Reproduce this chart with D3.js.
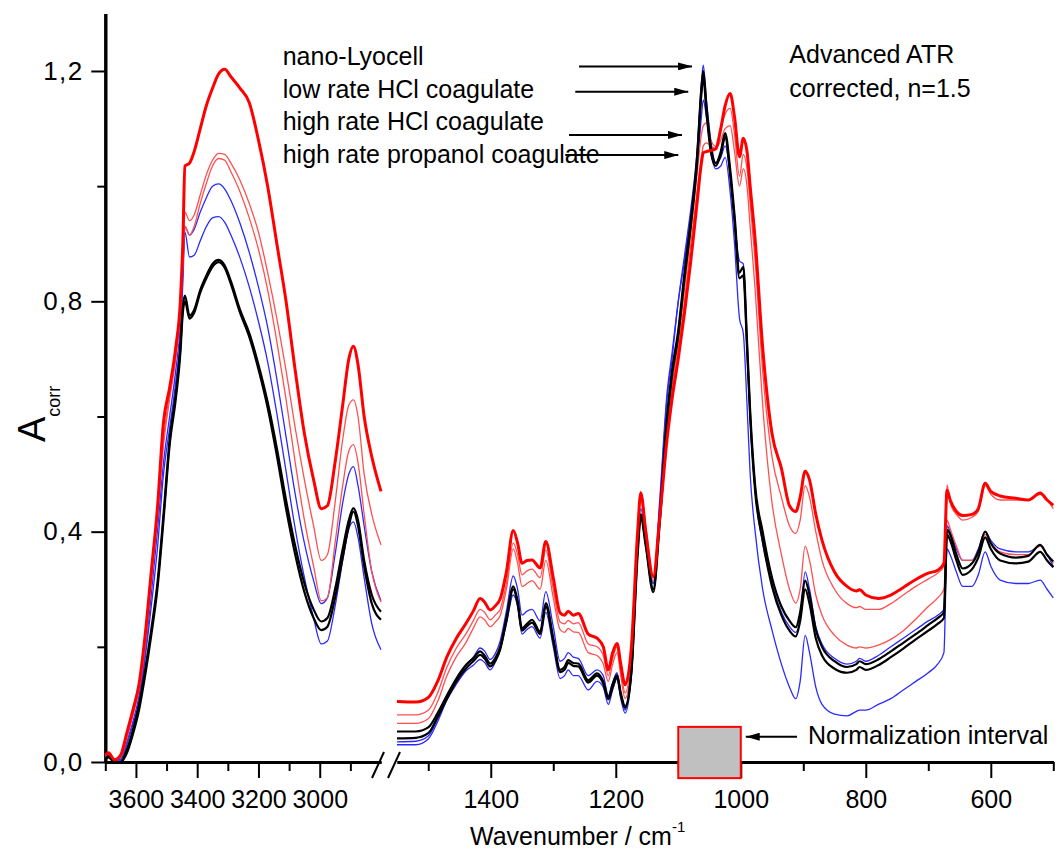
<!DOCTYPE html>
<html>
<head>
<meta charset="utf-8">
<script src="https://cdn.jsdelivr.net/npm/d3@7"></script>
<style>
  body { margin: 0; background: #ffffff; }
  svg { display: block; font-family: "Liberation Sans", Arial, Helvetica, sans-serif; }
</style>
</head>
<body>
<svg></svg>
<script>
const WIDTH = 1057;
const HEIGHT = 855;

// wavenumbers (cm-1) sampled in the two panels of the broken axis
const leftWavenumbers = [3700, 3690, 3670, 3650, 3630, 3610, 3590, 3570, 3550, 3530,
    3510, 3490, 3470, 3455, 3447, 3440, 3425, 3410, 3390, 3370,
    3350, 3330, 3310, 3290, 3260, 3230, 3200, 3170, 3140, 3110,
    3080, 3050, 3020, 2995, 2975, 2950, 2925, 2905, 2890, 2875,
    2855, 2830, 2800];

const rightWavenumbers = [1550, 1520, 1500, 1485, 1470, 1455, 1440, 1428, 1417, 1410,
    1401, 1392, 1385, 1375, 1364, 1357, 1350, 1342, 1334, 1321,
    1312, 1300, 1289, 1282, 1276, 1268, 1260, 1244, 1230, 1220,
    1212, 1205, 1198, 1192, 1185, 1175, 1165, 1160, 1152, 1140,
    1130, 1118, 1110, 1100, 1090, 1080, 1070, 1063, 1060, 1055,
    1048, 1040, 1032, 1025, 1017, 1010, 1002, 996, 990, 985,
    977, 965, 950, 935, 922, 912, 905, 897, 890, 880,
    870, 850, 830, 815, 810, 800, 780, 760, 740, 720,
    700, 685, 675, 670, 665, 655, 645, 630, 620, 609,
    600, 585, 560, 540, 521, 510, 500];

// high rate propanol coagulate
const propanolLeft = [.012, .016, .004, .012, .05, .09, .135, .22, .33, .44,
    .59, .65, .72, .8, .9, 1.035, 1.04, 1.06, 1.1, 1.14,
    1.17, 1.195, 1.203, 1.19, 1.17, 1.145, 1.08, 1.0, .9, .8,
    .68, .57, .49, .44, .445, .52, .62, .7, .722, .69,
    .6, .53, .47];
const propanolRight = [.105, .104, .112, .14, .183, .215, .24, .262, .284, .278,
    .264, .272, .283, .33, .402, .38, .345, .35, .351, .337,
    .383, .32, .259, .255, .262, .255, .258, .222, .215, .2,
    .16, .19, .206, .17, .134, .2, .4, .467, .4, .322,
    .42, .56, .63, .7, .78, .87, .97, 1.04, 1.058, 1.06,
    1.062, 1.065, 1.1, 1.14, 1.161, 1.12, 1.051, 1.083, 1.06, 1.0,
    .907, .72, .57, .51, .445, .435, .46, .505, .49, .43,
    .385, .33, .305, .297, .299, .29, .284, .29, .303, .317,
    .328, .333, .345, .472, .455, .435, .428, .43, .44, .484,
    .47, .462, .458, .455, .467, .455, .446];

// high rate HCl coagulate, two spectra
const hclHighALeft = [.012, .015, .005, .01, .045, .085, .13, .21, .32, .43,
    .56, .64, .71, .79, .88, .955, .94, .95, .985, 1.02,
    1.045, 1.057, 1.055, 1.04, 1.01, .97, .92, .85, .77, .68,
    .58, .49, .41, .35, .36, .45, .56, .62, .629, .6,
    .5, .43, .377];
const hclHighARight = [.082, .082, .09, .12, .165, .198, .222, .245, .265, .26,
    .247, .256, .265, .31, .38, .36, .325, .332, .335, .32,
    .368, .3, .243, .24, .246, .24, .242, .205, .2, .185,
    .15, .18, .2, .16, .12, .19, .4, .47, .41, .32,
    .42, .57, .65, .73, .82, .92, 1.02, 1.09, 1.105, 1.11,
    1.08, 1.069, 1.1, 1.125, 1.135, 1.09, 1.017, 1.055, 1.03, .97,
    .87, .68, .53, .46, .41, .397, .42, .48, .46, .4,
    .35, .3, .275, .268, .27, .265, .265, .275, .29, .305,
    .318, .328, .34, .481, .45, .43, .42, .425, .435, .48,
    .465, .455, .455, .455, .465, .455, .44];
const hclHighBLeft = [.01, .014, .004, .008, .04, .08, .125, .2, .31, .42,
    .55, .63, .7, .78, .86, .93, .915, .93, .97, 1.005,
    1.035, 1.048, 1.045, 1.025, .99, .945, .89, .82, .73, .63,
    .52, .42, .34, .28, .285, .38, .48, .54, .551, .52,
    .43, .33, .278];
const hclHighBRight = [.067, .067, .075, .105, .15, .183, .207, .232, .252, .247,
    .235, .244, .254, .3, .37, .345, .305, .31, .315, .3,
    .35, .285, .23, .225, .232, .226, .225, .19, .185, .17,
    .14, .17, .19, .15, .11, .18, .39, .46, .4, .315,
    .41, .56, .64, .72, .8, .9, .99, 1.05, 1.07, 1.075,
    1.07, 1.065, 1.08, 1.1, 1.105, 1.06, 1.0, 1.03, 1.0, .93,
    .82, .62, .45, .36, .3, .276, .3, .375, .35, .29,
    .255, .22, .203, .198, .2, .198, .203, .213, .228, .248,
    .27, .285, .3, .42, .405, .375, .35, .35, .365, .395,
    .38, .365, .36, .36, .375, .36, .345];

// low rate HCl coagulate, two spectra
const hclLowALeft = [.008, .012, .002, .005, .035, .07, .115, .19, .29, .4,
    .52, .6, .68, .76, .85, .93, .915, .925, .955, .98,
    1.0, 1.004, .995, .975, .935, .885, .825, .755, .665, .565,
    .465, .38, .315, .275, .285, .36, .45, .5, .513, .48,
    .41, .33, .28];
const hclLowARight = [.035, .036, .045, .075, .112, .142, .168, .182, .198, .193,
    .178, .19, .21, .262, .323, .3, .255, .262, .265, .245,
    .296, .235, .175, .18, .19, .182, .18, .15, .16, .15,
    .115, .138, .155, .12, .09, .16, .38, .44, .39, .31,
    .44, .63, .7, .8, .88, .96, 1.06, 1.18, 1.21, 1.15,
    1.08, 1.04, 1.05, 1.07, 1.02, .94, .87, .865, .72, .6,
    .47, .38, .31, .26, .235, .225, .25, .33, .3, .235,
    .205, .18, .17, .175, .18, .175, .185, .2, .215, .23,
    .245, .255, .265, .41, .4, .37, .35, .35, .37, .4,
    .385, .37, .365, .365, .375, .36, .34];
const hclLowBLeft = [.006, .01, 0, .003, .03, .065, .105, .18, .27, .37,
    .5, .58, .66, .74, .83, .92, .877, .88, .905, .93,
    .945, .947, .937, .915, .875, .825, .765, .695, .605, .505,
    .405, .32, .25, .205, .21, .27, .35, .405, .417, .39,
    .32, .24, .195];
const hclLowBRight = [.03, .03, .04, .07, .108, .135, .158, .168, .178, .173,
    .16, .175, .195, .24, .29, .27, .222, .23, .235, .215,
    .26, .2, .145, .15, .16, .15, .15, .125, .14, .13,
    .1, .125, .145, .11, .085, .15, .37, .43, .38, .31,
    .45, .64, .71, .8, .87, .95, 1.03, 1.12, 1.15, 1.12,
    1.06, 1.03, 1.035, 1.05, .99, .9, .77, .745, .62, .5,
    .4, .3, .229, .17, .13, .11, .14, .22, .19, .13,
    .1, .083, .08, .088, .09, .09, .1, .11, .125, .14,
    .155, .17, .19, .37, .36, .33, .305, .305, .325, .365,
    .34, .316, .31, .31, .316, .3, .285];

// nano-Lyocell, two spectra
const lyocellALeft = [.005, .01, 0, 0, .021, .055, .1, .16, .23, .31,
    .43, .56, .64, .72, .79, .81, .775, .785, .82, .845,
    .865, .872, .862, .835, .785, .745, .69, .625, .545, .455,
    .375, .31, .265, .244, .25, .3, .37, .42, .441, .42,
    .35, .29, .261];
const lyocellARight = [.053, .053, .06, .085, .116, .145, .168, .18, .192, .185,
    .171, .182, .2, .25, .305, .28, .232, .24, .247, .226,
    .276, .215, .16, .165, .177, .172, .171, .142, .154, .14,
    .113, .135, .151, .12, .097, .16, .37, .43, .38, .3,
    .42, .6, .68, .75, .85, .94, 1.05, 1.17, 1.2, 1.14,
    1.07, 1.04, 1.06, 1.092, 1.03, .95, .85, .86, .73, .61,
    .48, .4, .32, .27, .245, .234, .26, .315, .29, .23,
    .2, .175, .165, .17, .175, .17, .178, .192, .207, .222,
    .238, .25, .26, .403, .395, .36, .336, .345, .365, .4,
    .38, .362, .355, .358, .377, .36, .348];
const lyocellBLeft = [.004, .008, 0, 0, .015, .048, .09, .15, .22, .3,
    .42, .55, .63, .71, .78, .8, .77, .78, .815, .84,
    .86, .868, .858, .83, .78, .738, .682, .615, .532, .44,
    .36, .295, .25, .229, .235, .285, .355, .41, .435, .41,
    .34, .275, .247];
const lyocellBRight = [.041, .042, .05, .078, .11, .14, .162, .175, .186, .18,
    .166, .177, .195, .245, .3, .275, .228, .236, .242, .222,
    .27, .21, .156, .16, .172, .167, .166, .138, .15, .136,
    .109, .13, .147, .116, .094, .155, .36, .425, .375, .295,
    .41, .59, .67, .74, .84, .93, 1.04, 1.16, 1.19, 1.13,
    1.06, 1.035, 1.055, 1.085, 1.02, .94, .84, .845, .72, .6,
    .47, .385, .305, .255, .228, .218, .245, .3, .275, .215,
    .185, .162, .155, .16, .165, .16, .168, .182, .197, .213,
    .228, .24, .25, .395, .385, .35, .325, .335, .355, .39,
    .37, .35, .345, .348, .365, .35, .338];

// ticks
const yMajorTicks = [0, 0.4, 0.8, 1.2];
const yMinorTicks = [0.2, 0.6, 1.0];
const leftMajorTicks = [3600, 3400, 3200, 3000];
const leftMinorTicks = [3700, 3500, 3300, 3100, 2900];
const rightMajorTicks = [1400, 1200, 1000, 800, 600];
const rightMinorTicks = [1500, 1300, 1100, 900, 700, 500];

// annotations
const legendLabels = ["nano-Lyocell", "low rate HCl coagulate", "high rate HCl coagulate", "high rate propanol coagulate"];
const legendArrowTips = [[1078, 1.208], [1084, 1.164], [1094, 1.089], [1100, 1.054]];
const noteLines = ["Advanced ATR", "corrected, n=1.5"];
const normInterval = [1100, 1000];
const normBoxLimits = [0.061, -0.028];

const lineStyles = {
    propanol: { stroke: "#ff0000", width: 3 },
    hclHigh: { stroke: "#ff5050", width: 1.3 },
    hclLow: { stroke: "#2a2aff", width: 1.3 },
    lyocell: { stroke: "#000000", width: 2.2 }
};

// drawing order: the last one ends up on top
const spectra = [
    { kind: "hclLow", left: hclLowBLeft, right: hclLowBRight },
    { kind: "hclLow", left: hclLowALeft, right: hclLowARight },
    { kind: "hclHigh", left: hclHighBLeft, right: hclHighBRight },
    { kind: "hclHigh", left: hclHighALeft, right: hclHighARight },
    { kind: "lyocell", left: lyocellBLeft, right: lyocellBRight },
    { kind: "lyocell", left: lyocellALeft, right: lyocellARight },
    { kind: "propanol", left: propanolLeft, right: propanolRight }
];

function styleAxis(g, fontSize) {
    g.select(".domain").attr("stroke-width", 3);
    g.selectAll(".tick line").attr("stroke-width", 2);
    g.selectAll("text")
        .attr("font-family", "Liberation Sans, Arial, sans-serif")
        .style("font-size", fontSize + "px")
        .attr("fill", "#000");
}

function drawChart(svg) {
    svg.attr("width", WIDTH).attr("height", HEIGHT);

    const y = d3.scaleLinear().domain([0, 1.3]).range([762, 13.4]);
    const xLeft = d3.scaleLinear().domain([3700, 2800]).range([105.3, 381]);
    const xRight = d3.scaleLinear().domain([1550, 500]).range([397, 1053.3]);

    // y axis
    svg.append("g")
        .attr("transform", "translate(105.3,0)")
        .call(d3.axisLeft(y).tickValues(yMinorTicks).tickSize(8).tickSizeOuter(0).tickFormat(""))
        .call(g => styleAxis(g, 25));
    svg.append("g")
        .attr("transform", "translate(105.3,0)")
        .call(d3.axisLeft(y).tickValues(yMajorTicks).tickSize(14).tickSizeOuter(0).tickPadding(7.5)
            .tickFormat(d => d.toFixed(1).replace(".", ",")))
        .call(g => styleAxis(g, 26))
        .call(g => g.selectAll("text").style("letter-spacing", "1.5px"));

    // x axes, one per panel
    [[xLeft, leftMajorTicks, leftMinorTicks], [xRight, rightMajorTicks, rightMinorTicks]].forEach(([x, major, minor]) => {
        svg.append("g")
            .attr("transform", "translate(0,762)")
            .call(d3.axisBottom(x).tickValues(minor).tickSize(9).tickSizeOuter(0).tickFormat(""))
            .call(g => styleAxis(g, 25));
        svg.append("g")
            .attr("transform", "translate(0,762)")
            .call(d3.axisBottom(x).tickValues(major).tickSize(16).tickSizeOuter(0).tickFormat(d => d))
            .call(g => styleAxis(g, 25))
            .call(g => g.selectAll("text").attr("y", 28).attr("dy", "0.71em"));
    });

    // break marks
    svg.append("g")
        .selectAll("line")
        .data([372, 388])
        .enter().append("line")
        .attr("x1", d => d).attr("y1", 778)
        .attr("x2", d => d + 12).attr("y2", 752)
        .attr("stroke", "#000")
        .attr("stroke-width", 2);

    // spectra
    const lineFor = (x, wn) => d3.line()
        .x((d, i) => x(wn[i]))
        .y(d => y(d))
        .curve(d3.curveMonotoneX);

    const lineLeft = lineFor(xLeft, leftWavenumbers);
    const lineRight = lineFor(xRight, rightWavenumbers);

    const lines = svg.append("g").attr("fill", "none").attr("stroke-linejoin", "round");
    spectra.forEach(s => {
        const st = lineStyles[s.kind];
        lines.append("path")
            .attr("d", lineLeft(s.left))
            .attr("stroke", st.stroke)
            .attr("stroke-width", st.width);
        lines.append("path")
            .attr("d", lineRight(s.right))
            .attr("stroke", st.stroke)
            .attr("stroke-width", st.width);
    });

    // normalization interval box
    svg.append("rect")
        .attr("x", xRight(normInterval[0]))
        .attr("y", y(normBoxLimits[0]))
        .attr("width", xRight(normInterval[1]) - xRight(normInterval[0]))
        .attr("height", y(normBoxLimits[1]) - y(normBoxLimits[0]))
        .attr("fill", "#c0c0c0")
        .attr("stroke", "#ff0000")
        .attr("stroke-width", 2);

    // arrow head
    svg.append("defs").append("marker")
        .attr("id", "head")
        .attr("markerUnits", "userSpaceOnUse")
        .attr("viewBox", "0 0 14 8")
        .attr("refX", 14).attr("refY", 4)
        .attr("markerWidth", 14).attr("markerHeight", 8)
        .attr("orient", "auto")
        .append("path")
        .attr("d", "M0,0L14,4L0,8Z")
        .attr("fill", "#000");

    const textStyle = sel => sel
        .attr("font-size", 25)
        .attr("fill", "#000")
        .attr("font-family", "Liberation Sans, Arial, sans-serif");

    // legend labels with arrows to the peaks
    svg.append("g")
        .selectAll("text")
        .data(legendLabels)
        .enter().append("text")
        .attr("x", 282.7)
        .attr("y", (d, i) => 65 + i * 32.6)
        .text(d => d)
        .call(textStyle);

    svg.append("g")
        .selectAll("line")
        .data(legendArrowTips)
        .enter().append("line")
        .attr("x1", d => xRight(d[0]) - 113)
        .attr("x2", d => xRight(d[0]))
        .attr("y1", d => y(d[1]))
        .attr("y2", d => y(d[1]))
        .attr("stroke", "#000")
        .attr("stroke-width", 2)
        .attr("marker-end", "url(#head)");

    svg.append("g")
        .selectAll("text")
        .data(noteLines)
        .enter().append("text")
        .attr("x", 789.3)
        .attr("y", (d, i) => 63.3 + i * 34)
        .text(d => d)
        .call(textStyle);

    // normalization label
    svg.append("line")
        .attr("x1", 797).attr("x2", xRight(normInterval[1]) + 5)
        .attr("y1", 736.7).attr("y2", 736.7)
        .attr("stroke", "#000")
        .attr("stroke-width", 2)
        .attr("marker-end", "url(#head)");
    svg.append("text")
        .attr("x", 808)
        .attr("y", 743.5)
        .text("Normalization interval")
        .call(textStyle);

    // axis titles
    const xTitle = svg.append("text")
        .attr("x", 470)
        .attr("y", 845)
        .call(textStyle);
    xTitle.append("tspan").text("Wavenumber / cm");
    xTitle.append("tspan").attr("dy", -13).attr("font-size", 15).text("-1");

    const yTitle = svg.append("text")
        .attr("transform", "translate(45,442) rotate(-90)")
        .call(textStyle)
        .attr("font-size", 38);
    yTitle.append("tspan").text("A");
    yTitle.append("tspan").attr("dy", 15).attr("font-size", 18).text("corr");
}

function onReady() {
    const svg = d3.select("svg");
    console.log("drawing %o spectra", spectra.length);
    drawChart(svg);
}

document.addEventListener("DOMContentLoaded", onReady);
</script>
</body>
</html>
